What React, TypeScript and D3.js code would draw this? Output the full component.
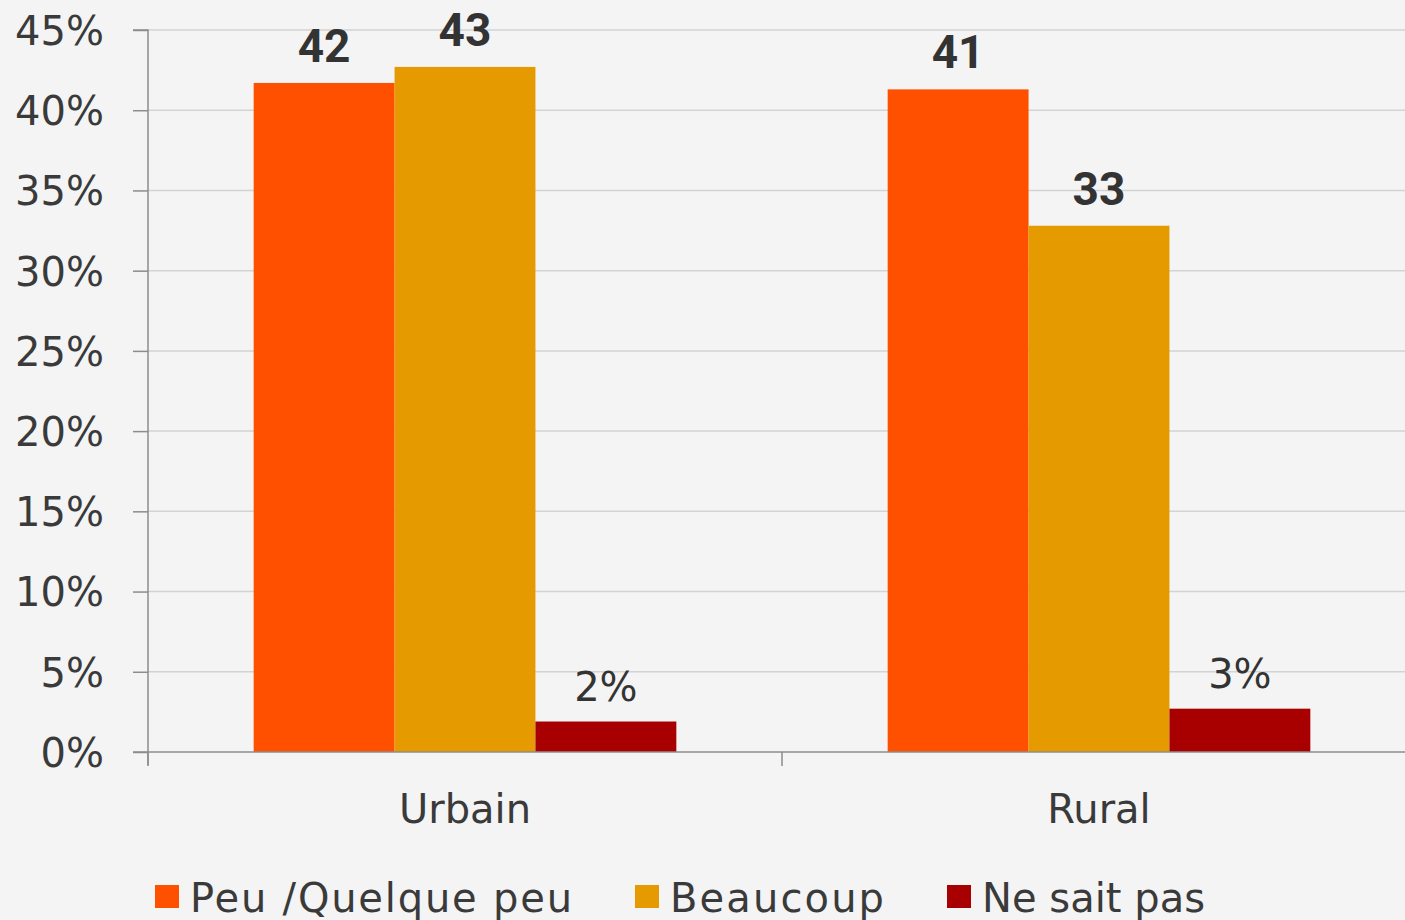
import * as d3 from 'd3';
import { useEffect, useRef } from 'react';

const categories = ['Urbain', 'Rural'];
const seriesNames = ['Peu /Quelque peu', 'Beaucoup', 'Ne sait pas'];
const peuValues = [41.7, 41.3];
const beaucoupValues = [42.7, 32.8];
const nspValues = [1.9, 2.7];
const seriesColors = ['#FF5000', '#E59B00', '#A80000'];
const yTicks = [0, 5, 10, 15, 20, 25, 30, 35, 40, 45];

function App() {
  const ref = useRef<SVGSVGElement | null>(null);

  useEffect(() => {
    const W = 1405;
    const H = 920;
    const margin = { left: 148, top: 30, right: -11, bottom: 168 };
    const font = '"DejaVu Sans", sans-serif';

    const svg = d3.select(ref.current);
    svg.selectAll('*').remove();

    svg.append('rect')
      .attr('width', W)
      .attr('height', H)
      .attr('fill', '#f4f4f4');

    const values = [peuValues, beaucoupValues, nspValues];

    const x = d3.scaleBand()
      .domain(categories)
      .range([margin.left, W - margin.right])
      .paddingInner(0)
      .paddingOuter(0);

    const xSub = d3.scaleBand()
      .domain(seriesNames)
      .range([0, x.bandwidth()])
      .paddingInner(0)
      .paddingOuter(0.75);

    const y = d3.scaleLinear()
      .domain([0, 45])
      .range([H - margin.bottom, margin.top]);

    // gridlines
    svg.append('g')
      .selectAll('line')
      .data(yTicks.filter((t) => t > 0))
      .enter()
      .append('line')
      .attr('x1', margin.left)
      .attr('x2', W)
      .attr('y1', (d) => y(d))
      .attr('y2', (d) => y(d))
      .attr('stroke', '#d3d3d3')
      .attr('stroke-width', 1.5);

    // Y axis
    const yAxis = svg.append('g')
      .attr('transform', `translate(${margin.left},0)`)
      .call(d3.axisLeft(y).tickValues(yTicks).tickSize(15).tickPadding(12).tickFormat((d) => `${d}%`));
    yAxis.select('.domain').attr('stroke', '#8c8c8c').attr('stroke-width', 1.5)
      .attr('d', `M-15,${y(45)}H0V${y(0) + 13}`);
    yAxis.selectAll('.tick line').attr('stroke', '#8c8c8c').attr('stroke-width', 1.5);
    yAxis.selectAll('.tick text')
      .attr('font-family', font)
      .attr('font-size', 40)
      .attr('fill', '#3a3a3a')
      .attr('dy', '0.36em')
      .attr('x', -44)
      .attr('text-anchor', 'end');

    // bars
    categories.forEach((cat, ci) => {
      const g = svg.append('g').attr('transform', `translate(${x(cat)},0)`);
      g.selectAll('rect')
        .data(seriesNames)
        .enter()
        .append('rect')
        .attr('x', (s) => xSub(s) as number)
        .attr('y', (s, si) => y(values[si][ci]))
        .attr('width', xSub.bandwidth())
        .attr('height', (s, si) => y(0) - y(values[si][ci]))
        .attr('fill', (s, si) => seriesColors[si]);

      g.selectAll('text')
        .data(seriesNames)
        .enter()
        .append('text')
        .attr('x', (s) => (xSub(s) as number) + xSub.bandwidth() / 2)
        .attr('y', (s, si) => y(values[si][ci]) - 21)
        .attr('text-anchor', 'middle')
        .attr('font-family', (s, si) => (si < 2 ? 'Roboto, sans-serif' : font))
        .attr('font-weight', (s, si) => (si < 2 ? 700 : 400))
        .attr('font-size', (s, si) => (si < 2 ? 46 : 40))
        .attr('fill', '#333')
        .text((s, si) => (si < 2 ? `${Math.round(values[si][ci])}` : `${Math.round(values[si][ci])}%`));
    });

    // X axis
    const xAxis = svg.append('g')
      .attr('transform', `translate(0,${y(0)})`);
    xAxis.append('line')
      .attr('x1', margin.left - 15)
      .attr('x2', W)
      .attr('stroke', '#8c8c8c')
      .attr('stroke-width', 1.5);
    xAxis.selectAll('line.tick')
      .data([margin.left, x('Rural') as number])
      .enter()
      .append('line')
      .attr('class', 'tick')
      .attr('x1', (d) => d)
      .attr('x2', (d) => d)
      .attr('y2', 14)
      .attr('stroke', '#8c8c8c')
      .attr('stroke-width', 1.5);
    xAxis.selectAll('text')
      .data(categories)
      .enter()
      .append('text')
      .attr('x', (d) => (x(d) as number) + xSub(seriesNames[1])! + xSub.bandwidth() / 2)
      .attr('y', 71)
      .attr('text-anchor', 'middle')
      .attr('font-family', font)
      .attr('font-size', 40)
      .attr('fill', '#3a3a3a')
      .text((d) => d);

    // legend
    const legendX = [155, 635, 947];
    const legendW = [382, 214, 223];
    const legend = svg.append('g');
    seriesNames.forEach((name, i) => {
      legend.append('rect')
        .attr('x', legendX[i])
        .attr('y', 885)
        .attr('width', 24)
        .attr('height', 23)
        .attr('fill', seriesColors[i]);
      legend.append('text')
        .attr('x', legendX[i] + 35)
        .attr('y', 912)
        .attr('font-family', font)
        .attr('font-size', 40)
        .attr('fill', '#3a3a3a')
        .attr('textLength', legendW[i])
        .attr('lengthAdjust', 'spacing')
        .text(name);
    });
  }, []);

  return (
    <div>
      <style>{'body{margin:0;overflow:hidden}'}</style>
      <svg ref={ref} width={1405} height={920} style={{ display: 'block' }} />
    </div>
  );
}

export default App;
